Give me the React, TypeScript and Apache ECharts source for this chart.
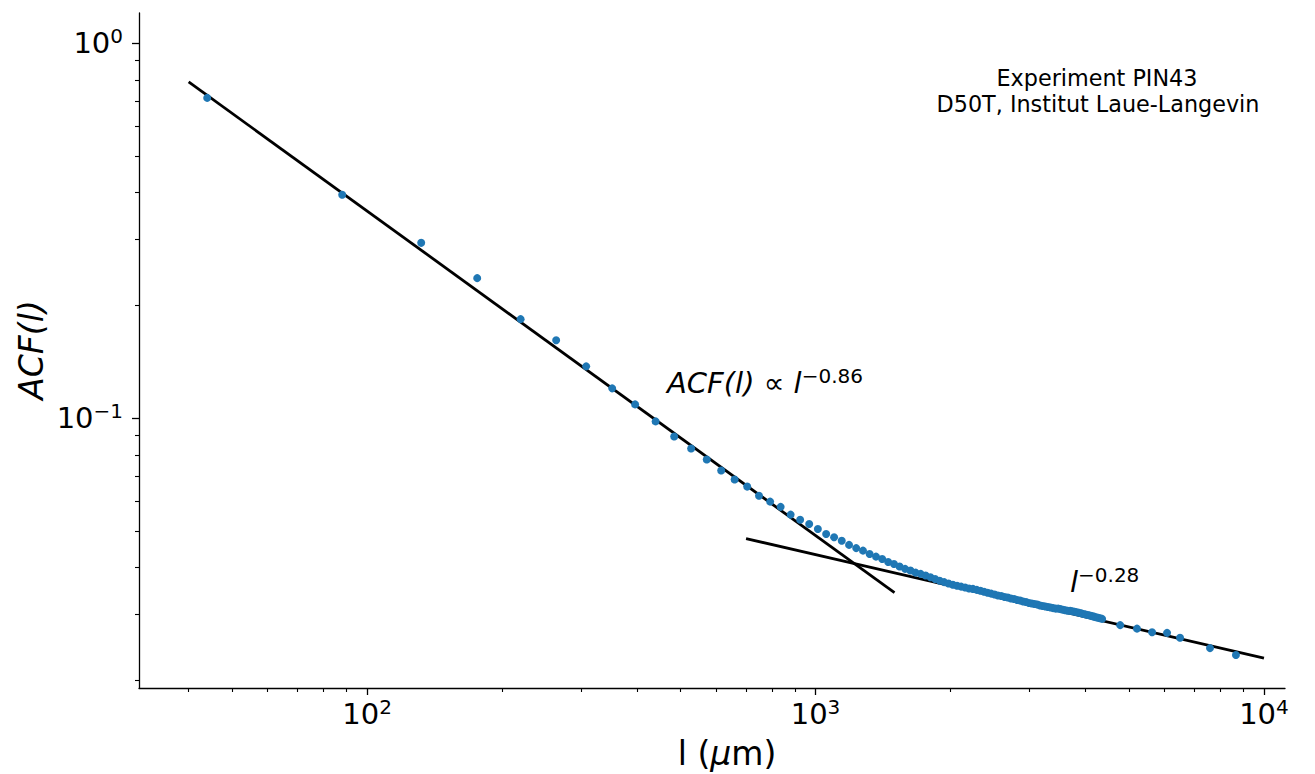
import React, { useEffect, useRef } from 'react';
import * as echarts from 'echarts';

// Measured lag l (µm) and autocorrelation ACF(l)
const lengthUm = [
  44, 88, 132, 176, 220, 264, 308, 352, 396, 440,
  484, 528, 572, 616, 660, 704, 748, 792, 836, 880,
  924, 968, 1012, 1056, 1100, 1144, 1188, 1232, 1276, 1320,
  1364, 1408, 1452, 1496, 1540, 1584, 1628, 1672, 1716, 1760,
  1804, 1848, 1892, 1936, 1980, 2024, 2068, 2112, 2156, 2200,
  2244, 2288, 2332, 2376, 2420, 2464, 2508, 2552, 2596, 2640,
  2684, 2728, 2772, 2816, 2860, 2904, 2948, 2992, 3036, 3080,
  3124, 3168, 3212, 3256, 3300, 3344, 3388, 3432, 3476, 3520,
  3564, 3608, 3652, 3696, 3740, 3784, 3828, 3872, 3916, 3960,
  4004, 4048, 4092, 4136, 4180, 4224, 4268, 4312, 4356,
  4780, 5210, 5630, 6080, 6500, 7580, 8660,
];
const acfValues = [
  0.716, 0.395, 0.294, 0.2367, 0.184, 0.1617, 0.1377, 0.1203, 0.109, 0.0982,
  0.0895, 0.0831, 0.0777, 0.0726, 0.0687, 0.0658, 0.0622, 0.06, 0.0581, 0.0554,
  0.0537, 0.0523, 0.0507, 0.0492, 0.0482, 0.0472, 0.046, 0.0451, 0.0444, 0.0435,
  0.0428, 0.0422, 0.0414, 0.0409, 0.0403, 0.0397, 0.0393, 0.0388, 0.0385, 0.0381,
  0.0377, 0.0373, 0.0369, 0.0366, 0.0363, 0.036, 0.0358, 0.0356, 0.0354, 0.0352,
  0.0351, 0.0349, 0.0347, 0.0345, 0.0343, 0.0341, 0.0339, 0.0337, 0.0336, 0.0334,
  0.0333, 0.0331, 0.033, 0.0328, 0.0327, 0.0325, 0.0324, 0.0322, 0.0321, 0.032,
  0.0319, 0.0317, 0.0316, 0.0315, 0.0314, 0.0313, 0.0312, 0.0311, 0.0311, 0.031,
  0.0309, 0.0308, 0.0307, 0.0307, 0.0306, 0.0305, 0.0304, 0.0303, 0.0302, 0.0301,
  0.03, 0.0299, 0.0298, 0.0297, 0.0296, 0.0295, 0.0294, 0.0293, 0.0292,
  0.0281, 0.0275, 0.0269, 0.0268, 0.026, 0.0244, 0.0234,
];

// Power-law fits (end points)
const fitSteepL = [40, 1500];
const fitSteepAcf = [0.79, 0.0343];
const fitShallowL = [700, 10000];
const fitShallowAcf = [0.0478, 0.02296];

// Axis ranges and ticks
const xRange = [31, 11140];
const yRange = [0.0191, 1.206];
const xMajor = [100, 1000, 10000];
const yMajor = [1, 0.1];
const xMinor = [40, 50, 60, 70, 80, 90, 200, 300, 400, 500, 600, 700, 800, 900,
  2000, 3000, 4000, 5000, 6000, 7000, 8000, 9000];
const yMinor = [0.02, 0.03, 0.04, 0.05, 0.06, 0.07, 0.08, 0.09,
  0.2, 0.3, 0.4, 0.5, 0.6, 0.7, 0.8, 0.9];

const FONT = 'DejaVu Sans';
const lg = (v: number) => Math.log10(v);

const tickRich = {
  b: { fontSize: 29, fontFamily: FONT, color: '#000', lineHeight: 34 },
  s: { fontSize: 20, fontFamily: FONT, color: '#000', lineHeight: 15, verticalAlign: 'top' },
};
const powLabel = (v: number) => {
  const e = Math.round(v);
  const es = e < 0 ? '\u2212' + String(-e) : String(e);
  return '{b|10}{s|' + es + '}';
};

export default function App() {
  const ref = useRef<HTMLDivElement>(null);
  useEffect(() => {
    if (!ref.current) return;
    const chart = echarts.init(ref.current, null, { renderer: 'svg' });
    const xMin = lg(xRange[0]);
    const xMax = lg(xRange[1]);
    const yMin = lg(yRange[0]);
    const yMax = lg(yRange[1]);
    const axisLineStyle = { color: '#000', width: 1.3 };
    const option: any = {
      animation: false,
      backgroundColor: '#fff',
      grid: { left: 139, right: 30, top: 13, bottom: 86, containLabel: false },
      xAxis: [
        {
          type: 'value', min: xMin, max: xMax, position: 'bottom',
          axisLine: { show: true, onZero: false, lineStyle: axisLineStyle },
          axisTick: { show: true, customValues: xMajor.map(lg), length: 7, lineStyle: axisLineStyle },
          axisLabel: { show: true, customValues: xMajor.map(lg), margin: 9, formatter: powLabel, rich: tickRich },
          splitLine: { show: false },
        },
        {
          type: 'value', min: xMin, max: xMax, position: 'bottom',
          axisLine: { show: false, onZero: false },
          axisTick: { show: true, customValues: xMinor.map(lg), length: 4, lineStyle: { color: '#000', width: 1.1 } },
          axisLabel: { show: false },
          splitLine: { show: false },
        },
      ],
      yAxis: [
        {
          type: 'value', min: yMin, max: yMax, position: 'left',
          axisLine: { show: true, onZero: false, lineStyle: axisLineStyle },
          axisTick: { show: true, customValues: yMajor.map(lg), length: 7, lineStyle: axisLineStyle },
          axisLabel: { show: true, customValues: yMajor.map(lg), margin: 16, formatter: powLabel, rich: tickRich },
          splitLine: { show: false },
        },
        {
          type: 'value', min: yMin, max: yMax, position: 'left',
          axisLine: { show: false, onZero: false },
          axisTick: { show: true, customValues: yMinor.map(lg), length: 4, lineStyle: { color: '#000', width: 1.1 } },
          axisLabel: { show: false },
          splitLine: { show: false },
        },
      ],
      series: [
        {
          type: 'line', xAxisIndex: 0, yAxisIndex: 0, z: 2, symbol: 'none', silent: true,
          data: fitSteepL.map((l, i) => [lg(l), lg(fitSteepAcf[i])]),
          lineStyle: { color: '#000', width: 2.8 },
        },
        {
          type: 'line', xAxisIndex: 0, yAxisIndex: 0, z: 2, symbol: 'none', silent: true,
          data: fitShallowL.map((l, i) => [lg(l), lg(fitShallowAcf[i])]),
          lineStyle: { color: '#000', width: 2.8 },
        },
        {
          type: 'scatter', xAxisIndex: 0, yAxisIndex: 0, z: 3, symbolSize: 8,
          data: lengthUm.map((l, i) => [lg(l), lg(acfValues[i])]),
          itemStyle: { color: '#1f77b4', opacity: 1 },
        },
      ],
      graphic: [
        {
          type: 'text', x: 1097, y: 78, z: 10,
          style: { text: 'Experiment PIN43', fontSize: 22.3, fontFamily: FONT, fill: '#000', align: 'center', verticalAlign: 'middle' },
        },
        {
          type: 'text', x: 1098, y: 104, z: 10,
          style: { text: 'D50T, Institut Laue-Langevin', fontSize: 22.3, fontFamily: FONT, fill: '#000', align: 'center', verticalAlign: 'middle' },
        },
        {
          type: 'text', x: 667, y: 366, z: 10,
          style: {
            text: '{m|ACF(l)}{r| \u221D }{m|l}{s|\u22120.86}',
            align: 'left', verticalAlign: 'top',
            rich: {
              m: { fontSize: 29, fontStyle: 'italic', fontFamily: FONT, color: '#000', lineHeight: 34 },
              r: { fontSize: 29, fontFamily: FONT, color: '#000', lineHeight: 34 },
              s: { fontSize: 20, fontFamily: FONT, color: '#000', lineHeight: 18, verticalAlign: 'top' },
            },
          },
        },
        {
          type: 'text', x: 1070, y: 565, z: 10,
          style: {
            text: '{m|l}{s|\u22120.28}',
            align: 'left', verticalAlign: 'top',
            rich: {
              m: { fontSize: 29, fontStyle: 'italic', fontFamily: FONT, color: '#000', lineHeight: 34 },
              s: { fontSize: 20, fontFamily: FONT, color: '#000', lineHeight: 18, verticalAlign: 'top' },
            },
          },
        },
        {
          type: 'text', x: 727, y: 753, z: 10,
          style: {
            text: '{u|l (}{i|\u03BC}{u|m)}',
            align: 'center', verticalAlign: 'middle',
            rich: {
              u: { fontSize: 33, fontFamily: FONT, color: '#000' },
              i: { fontSize: 33, fontStyle: 'italic', fontFamily: FONT, color: '#000' },
            },
          },
        },
        {
          type: 'text', x: 31, y: 350, rotation: Math.PI / 2, z: 10,
          style: {
            text: 'ACF(l)', fontSize: 33, fontStyle: 'italic', fontFamily: FONT, fill: '#000',
            align: 'center', verticalAlign: 'middle',
          },
        },
      ],
    };
    chart.setOption(option);
    return () => chart.dispose();
  }, []);
  return (
    <div
      ref={ref}
      style={{ position: 'absolute', left: 0, top: 0, width: 1315, height: 774, background: '#fff' }}
    />
  );
}
